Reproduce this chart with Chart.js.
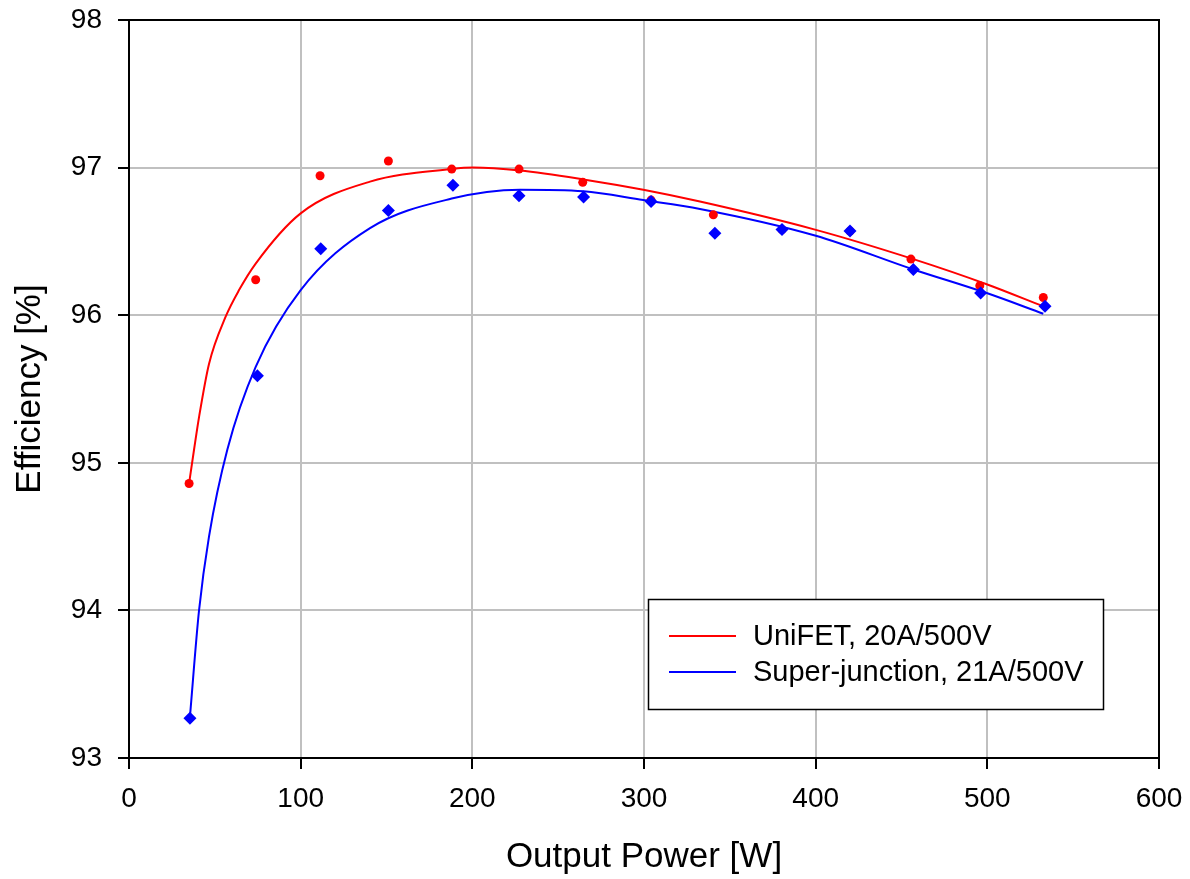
<!DOCTYPE html>
<html>
<head>
<meta charset="utf-8">
<script src="https://cdn.jsdelivr.net/npm/chart.js@4.4.1/dist/chart.umd.min.js"></script>
<style>
html,body{margin:0;padding:0;background:#fff;}
#wrap{width:1190px;height:879px;}
</style>
</head>
<body>
<div id="wrap"><canvas id="c" width="1190" height="879"></canvas></div>
<script>
// Measured points
const uniPower = [35.0, 73.8, 111.3, 151.1, 188.0, 227.2, 264.3, 304.1, 340.4, 380.4, 420.0, 455.5, 495.6, 532.6];
const uniEff   = [94.86, 96.24, 96.945, 97.045, 96.99, 96.99, 96.90, 96.78, 96.68, 96.58, 96.57, 96.38, 96.20, 96.12];
const sjPower  = [35.5, 74.8, 111.7, 151.1, 188.7, 227.2, 264.8, 304.1, 341.3, 380.4, 420.0, 456.9, 496.1, 533.6];
const sjEff    = [93.27, 95.59, 96.45, 96.71, 96.88, 96.81, 96.80, 96.77, 96.555, 96.58, 96.57, 96.31, 96.15, 96.06];

// Trend curves
const uniCurveX = [35.0, 37.9, 40.8, 46.6, 56.3, 64.1, 73.8, 100.0, 140.4, 188.0, 200.6, 227.8, 264.7, 299.6, 332.6, 399.6, 456.9, 499.6, 532.6];
const uniCurveY = [94.86, 95.09, 95.31, 95.67, 95.99, 96.17, 96.35, 96.69, 96.905, 96.99, 97.0, 96.98, 96.92, 96.85, 96.77, 96.58, 96.38, 96.21, 96.06];
const sjCurveX  = [35.5, 40.8, 46.6, 57.3, 73.8, 100.0, 140.4, 188.0, 227.8, 264.7, 299.6, 332.6, 399.6, 456.9, 499.6, 532.6];
const sjCurveY  = [93.28, 94.0, 94.5, 95.09, 95.65, 96.17, 96.59, 96.79, 96.85, 96.84, 96.78, 96.72, 96.54, 96.31, 96.15, 96.01];

const seriesNames = ['UniFET, 20A/500V', 'Super-junction, 21A/500V'];
const xTitle = 'Output Power [W]';
const yTitle = 'Efficiency [%]';

const pts = (xs, ys) => xs.map((x, i) => ({x: x, y: ys[i]}));
const FONT = 'Liberation Sans, Arial, sans-serif';

const frameAndLegend = {
  id: 'frameAndLegend',
  afterDatasetsDraw(chart) {
    const {ctx, chartArea: a} = chart;
    ctx.save();
    ctx.strokeStyle = '#000';
    ctx.lineWidth = 2;
    ctx.strokeRect(a.left, a.top, a.right - a.left, a.bottom - a.top);
    // legend box
    const bx = 648.5, by = 599.5, bw = 455, bh = 110;
    ctx.fillStyle = '#fff';
    ctx.fillRect(bx, by, bw, bh);
    ctx.lineWidth = 1.5;
    ctx.strokeStyle = '#000';
    ctx.strokeRect(bx, by, bw, bh);
    const colors = ['#ff0000', '#0000ff'];
    const ys = [636, 672];
    ctx.font = '29px ' + FONT;
    ctx.textBaseline = 'middle';
    ctx.textAlign = 'left';
    for (let i = 0; i < 2; i++) {
      ctx.strokeStyle = colors[i];
      ctx.lineWidth = 2;
      ctx.beginPath();
      ctx.moveTo(669, ys[i]);
      ctx.lineTo(736, ys[i]);
      ctx.stroke();
      ctx.fillStyle = '#000';
      ctx.fillText(seriesNames[i], 753, ys[i] + 1);
    }
    ctx.restore();
  }
};

new Chart(document.getElementById('c'), {
  type: 'scatter',
  data: {
    datasets: [
      {label: seriesNames[0] + ' fit', data: pts(uniCurveX, uniCurveY), showLine: true, borderColor: '#ff0000', borderWidth: 2, pointRadius: 0, cubicInterpolationMode: 'monotone', order: 4},
      {label: seriesNames[1] + ' fit', data: pts(sjCurveX, sjCurveY), showLine: true, borderColor: '#0000ff', borderWidth: 2, pointRadius: 0, cubicInterpolationMode: 'monotone', order: 3},
      {label: seriesNames[0], data: pts(uniPower, uniEff), showLine: false, pointStyle: 'circle', pointRadius: 4.5, backgroundColor: '#ff0000', borderColor: '#ff0000', borderWidth: 0, order: 2},
      {label: seriesNames[1], data: pts(sjPower, sjEff), showLine: false, pointStyle: 'rectRot', pointRadius: 6.5, backgroundColor: '#0000ff', borderColor: '#0000ff', borderWidth: 0, order: 1}
    ]
  },
  options: {
    responsive: false,
    animation: false,
    devicePixelRatio: 1,
    layout: {padding: {top: 20, right: 31, left: 0, bottom: 0}},
    plugins: {legend: {display: false}, tooltip: {enabled: false}},
    scales: {
      x: {
        type: 'linear', position: 'bottom', min: 0, max: 600,
        ticks: {stepSize: 100, color: '#000', font: {family: FONT, size: 28}, padding: 13, maxRotation: 0},
        grid: {color: '#c0c0c0', lineWidth: 2, tickLength: 11, tickColor: '#000', tickWidth: 2},
        border: {color: '#000', width: 2},
        title: {display: true, text: xTitle, color: '#000', font: {family: FONT, size: 35}, padding: {top: 0, bottom: 1}},
        afterFit(s) { s.height = 121; s.paddingLeft = 0; s.paddingRight = 0; }
      },
      y: {
        min: 93, max: 98,
        ticks: {stepSize: 1, color: '#000', font: {family: FONT, size: 28}, padding: 16},
        grid: {color: '#c0c0c0', lineWidth: 2, tickLength: 11, tickColor: '#000', tickWidth: 2},
        border: {color: '#000', width: 2},
        title: {display: true, text: yTitle, color: '#000', font: {family: FONT, size: 35}, padding: {top: 9, bottom: 0}},
        afterFit(s) { s.width = 129; s.paddingTop = 0; s.paddingBottom = 0; }
      }
    }
  },
  plugins: [frameAndLegend]
});
</script>
</body>
</html>
